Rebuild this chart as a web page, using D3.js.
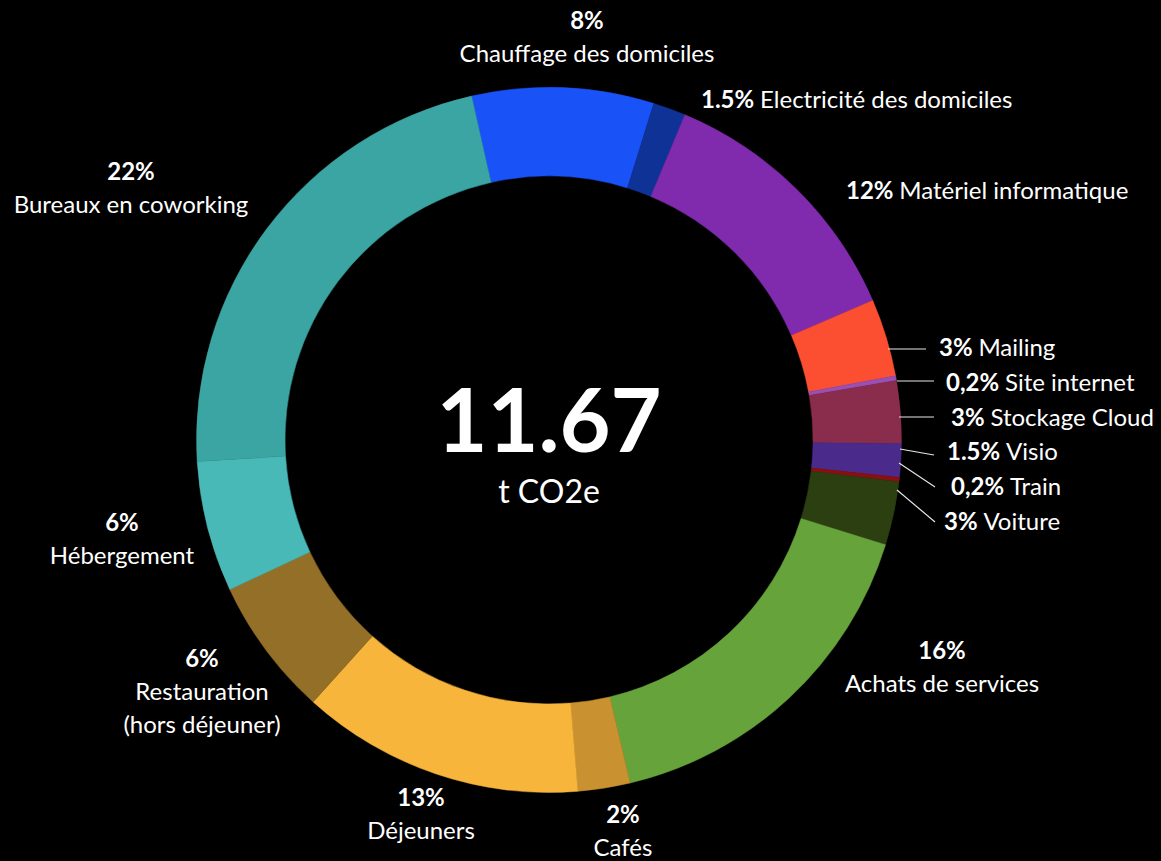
<!DOCTYPE html>
<html>
<head>
<meta charset="utf-8">
<script src="https://cdn.jsdelivr.net/npm/d3@7"></script>
<style>
  html, body { margin: 0; padding: 0; background: #000; }
  svg { display: block; }
  text { font-family: "Lato", "Source Sans Pro", sans-serif; fill: #fff; }
</style>
</head>
<body>
<div id="donut"></div>
<script>
// Empreinte carbone : donut des postes d'émission
var categories = ["Chauffage des domiciles", "Electricité des domiciles", "Matériel informatique",
    "Mailing", "Site internet", "Stockage Cloud", "Visio", "Train", "Voiture",
    "Achats de services", "Cafés", "Déjeuners", "Restauration (hors déjeuner)",
    "Hébergement", "Bureaux en coworking"];
var shares = [8.33, 1.5, 12.22, 3.56, 0.22, 2.86, 1.53, 0.19, 2.92, 16.5, 2.39, 12.97, 6.36, 6.0, 22.44];
var percent_labels = ["8%", "1.5%", "12%", "3%", "0,2%", "3%", "1.5%", "0,2%", "3%",
    "16%", "2%", "13%", "6%", "6%", "22%"];
var name_lines = [["Chauffage des domiciles"], ["Electricité des domiciles"], ["Matériel informatique"],
    ["Mailing"], ["Site internet"], ["Stockage Cloud"], ["Visio"], ["Train"], ["Voiture"],
    ["Achats de services"], ["Cafés"], ["Déjeuners"], ["Restauration", "(hors déjeuner)"],
    ["Hébergement"], ["Bureaux en coworking"]];
var slice_colors = ["#1953f7", "#0f3296", "#802bae", "#fc4f31", "#9a4fb3", "#8a2c4c",
    "#4a2b8c", "#8c0f10", "#2c3f10", "#67a33b", "#c9912f", "#f7b53c", "#946f27",
    "#48b9b6", "#3aa5a2"];
var total_value = "11.67";
var total_unit = "t CO2e";

var donut_width = 1161,
    donut_height = 861,
    donut_cx = 549,
    donut_cy = 440,
    donut_outer = 352.5,
    donut_inner = 264,
    donut_start = -12.7 * Math.PI / 180;

var donut_svg = d3.select("#donut")
    .append("svg")
    .attr("width", donut_width)
    .attr("height", donut_height);

var donut_g = donut_svg.append("g")
    .attr("transform", "translate(" + donut_cx + "," + donut_cy + ")");

var donut_pie = d3.pie()
    .sort(null)
    .value(function (d) { return d; })
    .startAngle(donut_start)
    .endAngle(donut_start + 2 * Math.PI);

var donut_arc = d3.arc()
    .innerRadius(donut_inner)
    .outerRadius(donut_outer);

var donut_color = d3.scaleOrdinal()
    .domain(categories)
    .range(slice_colors);

donut_g.selectAll("path")
    .data(donut_pie(shares))
    .enter().append("path")
    .attr("d", donut_arc)
    .style("fill", function (d, i) { return donut_color(categories[i]); })
    .style("stroke", function (d, i) { return donut_color(categories[i]); })
    .style("stroke-width", 0.5);

// texte central
donut_g.append("text")
    .attr("y", 12)
    .attr("font-size", "88px")
    .attr("font-weight", 700)
    .style("text-anchor", "middle")
    .text(total_value);
donut_g.append("text")
    .attr("y", 63)
    .attr("font-size", "32px")
    .style("text-anchor", "middle")
    .text(total_unit);

// placement des étiquettes (pourcentage au-dessus du nom, ou en ligne avec un trait)
var label_layout = [
    { stack: true, x: 587, y: 29 },
    { stack: false, x: 701, y: 108 },
    { stack: false, x: 846, y: 199 },
    { stack: false, x: 939, y: 356, line: [888, 349, 926, 349] },
    { stack: false, x: 946, y: 391, line: [897, 381, 934, 381] },
    { stack: false, x: 951, y: 426, line: [899, 417, 934, 417] },
    { stack: false, x: 947, y: 460, line: [900, 449, 934, 455] },
    { stack: false, x: 951, y: 495, line: [899, 463, 935, 487] },
    { stack: false, x: 944, y: 530, line: [897, 490, 935, 522] },
    { stack: true, x: 942, y: 659 },
    { stack: true, x: 623, y: 823 },
    { stack: true, x: 421, y: 806 },
    { stack: true, x: 202, y: 667 },
    { stack: true, x: 122, y: 531 },
    { stack: true, x: 131, y: 180 }
];
var label_size = 24;
var line_gap = 33;

var donut_labels = donut_svg.append("g")
    .selectAll("g")
    .data(categories)
    .enter().append("g");

donut_labels.each(function (name, i) {
    var lay = label_layout[i];
    var g = d3.select(this);
    if (lay.line) {
        g.append("line")
            .attr("x1", lay.line[0]).attr("y1", lay.line[1])
            .attr("x2", lay.line[2]).attr("y2", lay.line[3])
            .style("stroke", "#e6e6e6")
            .style("stroke-width", 1.2);
    }
    if (lay.stack) {
        g.append("text")
            .attr("x", lay.x)
            .attr("y", lay.y)
            .attr("font-size", label_size + "px")
            .attr("font-weight", 700)
            .style("text-anchor", "middle")
            .text(percent_labels[i]);
        name_lines[i].forEach(function (line, k) {
            g.append("text")
                .attr("x", lay.x)
                .attr("y", lay.y + line_gap * (k + 1))
                .attr("font-size", label_size + "px")
                .style("text-anchor", "middle")
                .text(line);
        });
    } else {
        var t = g.append("text")
            .attr("x", lay.x)
            .attr("y", lay.y)
            .attr("font-size", label_size + "px")
            .style("text-anchor", "start");
        t.append("tspan")
            .attr("font-weight", 700)
            .text(percent_labels[i] + " ");
        t.append("tspan")
            .text(name_lines[i].join(" "));
    }
});
</script>
</body>
</html>
